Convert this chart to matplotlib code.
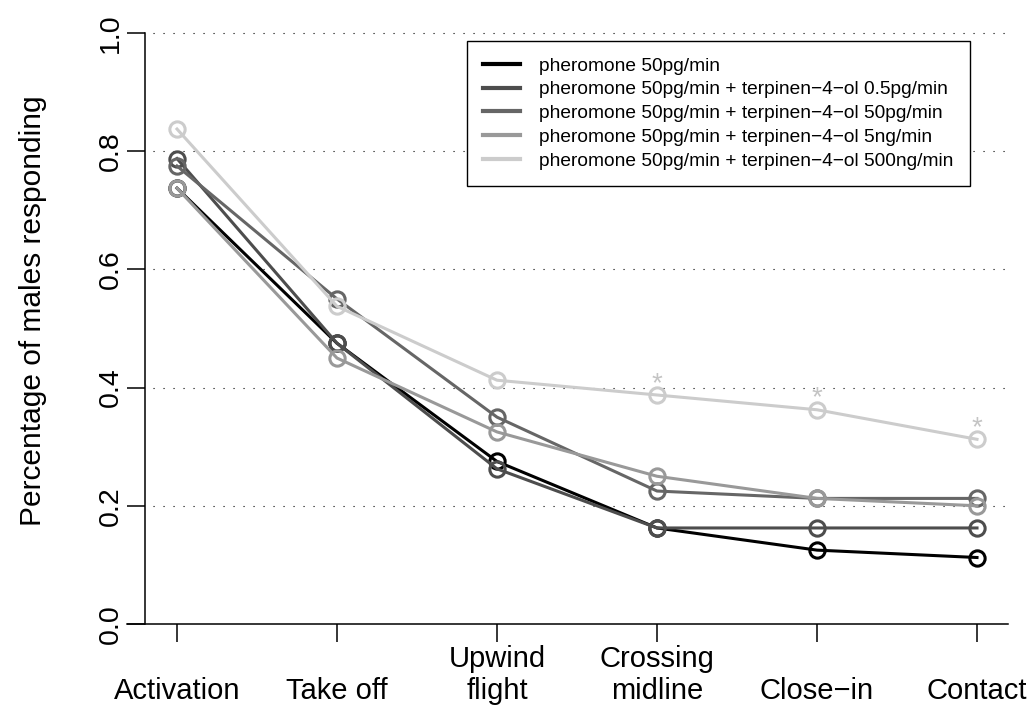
import numpy as np
import matplotlib
matplotlib.use("Agg")
import matplotlib.pyplot as plt

plt.rcParams['font.family'] = ['Liberation Sans', 'DejaVu Sans']

# behavioural steps of the wind tunnel assay
stages = ["Activation", "Take off", "Upwind\nflight", "Crossing\nmidline", "Close\u2212in", "Contact"]

# proportion of males reaching each step (n = 80 per treatment)
pher_only = [0.7375, 0.475, 0.275, 0.1625, 0.125, 0.1125]
t4_05pg = [0.7875, 0.475, 0.2625, 0.1625, 0.1625, 0.1625]
t4_50pg = [0.775, 0.55, 0.35, 0.225, 0.2125, 0.2125]
t4_5ng = [0.7375, 0.45, 0.325, 0.25, 0.2125, 0.2]
t4_500ng = [0.8375, 0.5375, 0.4125, 0.3875, 0.3625, 0.3125]

labels = ["pheromone 50pg/min",
          "pheromone 50pg/min + terpinen\u22124\u2212ol 0.5pg/min",
          "pheromone 50pg/min + terpinen\u22124\u2212ol 50pg/min",
          "pheromone 50pg/min + terpinen\u22124\u2212ol 5ng/min",
          "pheromone 50pg/min + terpinen\u22124\u2212ol 500ng/min"]
cols = ["#000000", "#4d4d4d", "#666666", "#999999", "#cccccc"]

# steps where 500ng/min differs significantly from pheromone alone
signif = [3, 4, 5]

x = np.arange(1, len(stages) + 1)

fig = plt.figure(figsize=(10.29, 7.09), dpi=100)
ax = fig.add_axes([145/1029, 85/709, 863/1029, 591/709])
ax.set_xlim(0.8, 6.19375)
ax.set_ylim(0, 1)

# dotted reference lines
for yv in [0.2, 0.4, 0.6, 0.8, 1.0]:
    ax.axhline(yv, xmin=8/863, xmax=1, color='black', lw=0.8,
               linestyle=(0, (1, 8)), clip_on=False, zorder=1)

for ser, lab, c in zip([pher_only, t4_05pg, t4_50pg, t4_5ng, t4_500ng], labels, cols):
    ax.plot(x, ser, color=c, lw=2.2, marker='o', ms=11, mfc='none',
            mec=c, mew=2.2, label=lab, zorder=3, clip_on=False)

for i in signif:
    ax.annotate("*", (x[i], t4_500ng[i]), xytext=(0, 3), textcoords='offset points',
                ha='center', va='baseline', fontsize=20, color='#c4c4c4')

# axes in base-graphics style
for s in ['top', 'right', 'bottom']:
    ax.spines[s].set_visible(False)
ax.spines['left'].set_linewidth(1.1)
ax.axhline(0, xmin=-18/863, xmax=1, color='black', lw=1.1, clip_on=False, zorder=2)

ax.set_yticks([0.0, 0.2, 0.4, 0.6, 0.8, 1.0])
ax.set_yticklabels(["0.0", "0.2", "0.4", "0.6", "0.8", "1.0"], rotation=90, va='center')
ax.tick_params(axis='y', length=13, width=1.1, pad=2, labelsize=20.5)

ax.set_xticks(x)
ax.set_xticklabels([s if "\n" in s else "\n" + s for s in stages], linespacing=1.2)
ax.tick_params(axis='x', length=13, width=1.1, pad=2, labelsize=21)

ax.set_ylabel("Percentage of males responding", fontsize=21.5)
ax.yaxis.set_label_coords(-0.114, 0.53)

leg = fig.legend(loc='upper left', bbox_to_anchor=(467/1029, 1 - 41/709), fontsize=13.8,
                 frameon=True, fancybox=False, edgecolor='black', framealpha=1,
                 handlelength=1.9, handletextpad=1.0, labelspacing=0.33,
                 borderpad=0.85, borderaxespad=0)
leg.get_frame().set_linewidth(1.0)
for h in leg.get_lines():
    h.set_marker('')
    h.set_linewidth(3)

fig.savefig("out.png", dpi=100)
